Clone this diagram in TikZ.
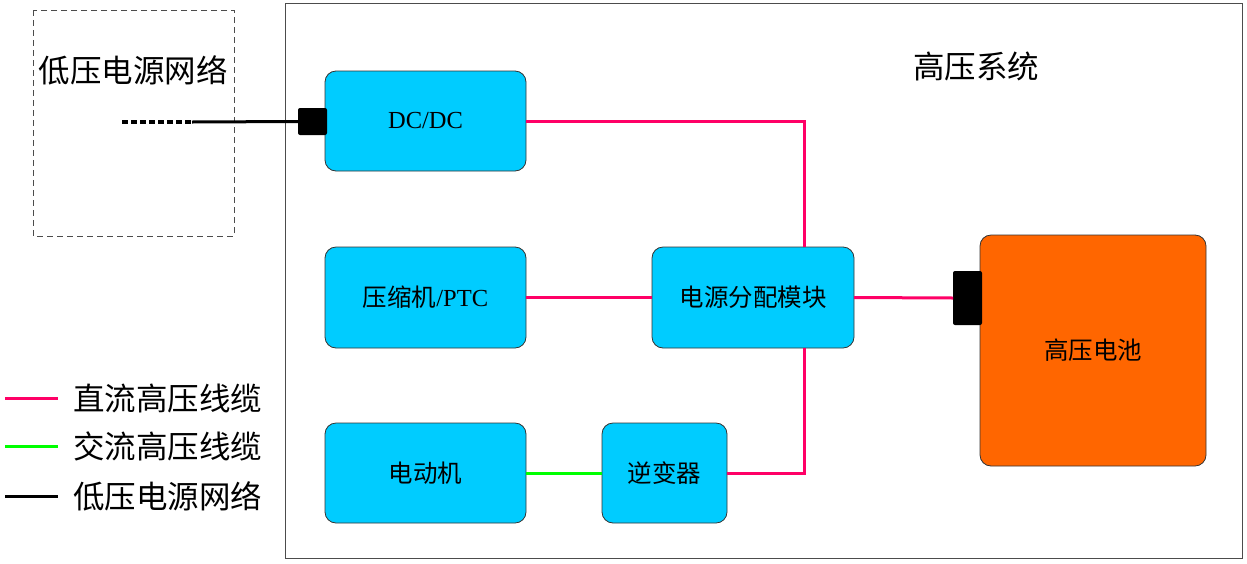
\documentclass[tikz,border=0pt]{standalone}
\usepackage{fontspec}
\setmainfont{Liberation Serif}
\newfontfamily\cjk{Noto Sans CJK SC}
\definecolor{boxcyan}{HTML}{00CCFF}
\definecolor{battorange}{HTML}{FF6600}
\definecolor{dcpink}{HTML}{FF0066}
\definecolor{acgreen}{HTML}{00FF00}
\begin{document}
\begin{tikzpicture}[x=1pt,y=-1pt,
  blk/.style={draw=black!80,line width=0.8pt,fill=boxcyan,rounded corners=11pt,inner sep=0pt,outer sep=0pt,font=\fontsize{24.5}{26}\selectfont},
  plug/.style={fill=black,rounded corners=2pt,inner sep=0pt,outer sep=0pt},
  dc/.style={draw=dcpink,line width=3pt},
  ac/.style={draw=acgreen,line width=3pt},
  lv/.style={draw=black,line width=3pt},
  big/.style={font=\fontsize{31.5}{34}\selectfont\cjk}]
\useasboundingbox (0,0) rectangle (1247,563);
% outer boxes
\draw[black!70,line width=0.8pt] (285,3) rectangle (1242,558);
\draw[black!70,line width=0.8pt,dash pattern=on 6pt off 4pt] (33,10) rectangle (234,236);
\node[big] (lvnet) at (133,70) {低压电源网络};
\node[big] (hvsys) at (976,66) {高压系统};
% blocks
\node[blk,minimum width=201pt,minimum height=100pt] (dcdc) at (425.5,121) {DC/DC};
\node[blk,minimum width=201pt,minimum height=101pt] (comp) at (425.5,297.5) {{\cjk 压缩机}/PTC};
\node[blk,minimum width=201pt,minimum height=100pt] (motor) at (425.5,473) {\cjk 电动机};
\node[blk,minimum width=202pt,minimum height=101pt] (pdu) at (753,297.5) {\cjk 电源分配模块};
\node[blk,minimum width=125pt,minimum height=100pt] (inv) at (664.5,473) {\cjk 逆变器};
\node[blk,fill=battorange,minimum width=226pt,minimum height=231pt] (batt) at (1093,350.5) {\cjk 高压电池};
% plugs
\node[plug,minimum width=29pt,minimum height=27pt] (plugdc) at (312.5,121.5) {};
\node[plug,minimum width=29pt,minimum height=54pt] (plugbatt) at (967.5,298) {};
% low-voltage line
\coordinate (lvend) at (122,122);
\coordinate (lvmid) at (192,122);
\draw[black,line width=3.2pt,dash pattern=on 6pt off 3pt] (lvend) -- (lvmid);
\draw[lv] (lvmid) -- (plugdc.west);
% DC lines
\draw[dc] (dcdc.east) -- (804,121) -- (804,247);
\draw[dc] (comp.east) -- (pdu.west);
\draw[dc] (pdu.east) -- (plugbatt.west);
\draw[dc] (804,348) -- (804,473) -- (inv.east);
% AC line
\draw[ac] (motor.east) -- (inv.west);
% legend
\coordinate (l1a) at (5,398); \coordinate (l1b) at (58,398);
\coordinate (l2a) at (5,446); \coordinate (l2b) at (58,446);
\coordinate (l3a) at (5,496); \coordinate (l3b) at (58,496);
\draw[dc] (l1a) -- (l1b);
\draw[ac] (l2a) -- (l2b);
\draw[lv] (l3a) -- (l3b);
\node[big,anchor=west,inner sep=0pt] (t1) at (73,398) {直流高压线缆};
\node[big,anchor=west,inner sep=0pt] (t2) at (73,446) {交流高压线缆};
\node[big,anchor=west,inner sep=0pt] (t3) at (73,496) {低压电源网络};
\end{tikzpicture}
\end{document}
